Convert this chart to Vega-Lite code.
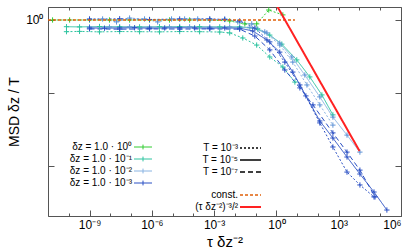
{
"$schema": "https://vega.github.io/schema/vega-lite/v6.json",
"width": 353, "height": 209,
"autosize": "none",
"padding": {"left": 48, "top": 7, "right": 14, "bottom": 33},
"config": {"font": "Liberation Sans", "view": {"stroke": "#555", "strokeWidth": 1},
  "axis": {"domain": false, "grid": false, "tickColor": "#555", "labelColor": "black", "labelFontSize": 12, "titleFontWeight": "normal", "titleColor": "black"},
  "legend": {"padding": 0, "labelFontSize": 10, "labelColor": "black", "rowPadding": 2, "labelLimit": 200}},
"datasets": {
"d": [
{"dz":"1e0","T":"1e-3","x":1.66e-11,"y":1},{"dz":"1e0","T":"1e-3","x":1.10e-10,"y":1},{"dz":"1e0","T":"1e-3","x":1e-9,"y":1},{"dz":"1e0","T":"1e-3","x":9.12e-9,"y":1},{"dz":"1e0","T":"1e-3","x":8.51e-8,"y":1},{"dz":"1e0","T":"1e-3","x":7.76e-7,"y":1},{"dz":"1e0","T":"1e-3","x":7.08e-6,"y":1},{"dz":"1e0","T":"1e-3","x":6.61e-5,"y":1},{"dz":"1e0","T":"1e-3","x":6.17e-4,"y":1},{"dz":"1e0","T":"1e-3","x":5.62e-3,"y":0.912},{"dz":"1e0","T":"1e-3","x":0.0302,"y":0.692},{"dz":"1e0","T":"1e-3","x":0.112,"y":0.692},{"dz":"1e0","T":"1e-3","x":0.427,"y":2.57},{"dz":"1e0","T":"1e-3","x":2.04,"y":1.62},
{"dz":"1e-1","T":"1e-5","x":7.76e-11,"y":0.53},{"dz":"1e-1","T":"1e-5","x":3.31e-10,"y":0.52},{"dz":"1e-1","T":"1e-5","x":3.02e-9,"y":0.54},{"dz":"1e-1","T":"1e-5","x":2.82e-8,"y":0.53},{"dz":"1e-1","T":"1e-5","x":2.57e-7,"y":0.52},{"dz":"1e-1","T":"1e-5","x":2.34e-6,"y":0.53},{"dz":"1e-1","T":"1e-5","x":2.19e-5,"y":0.54},{"dz":"1e-1","T":"1e-5","x":2.0e-4,"y":0.53},{"dz":"1e-1","T":"1e-5","x":1.86e-3,"y":0.52},{"dz":"1e-1","T":"1e-5","x":0.017,"y":0.52},{"dz":"1e-1","T":"1e-5","x":0.126,"y":0.427},{"dz":"1e-1","T":"1e-5","x":0.479,"y":0.24},{"dz":"1e-1","T":"1e-5","x":1.82,"y":0.102},{"dz":"1e-1","T":"1e-5","x":9.55,"y":0.0229},{"dz":"1e-1","T":"1e-5","x":40.7,"y":0.00457},{"dz":"1e-1","T":"1e-5","x":155,"y":8.32e-4},{"dz":"1e-1","T":"1e-5","x":525,"y":1.26e-4},
{"dz":"1e-1","T":"1e-3","x":7.76e-11,"y":0.331},{"dz":"1e-1","T":"1e-3","x":3.31e-10,"y":0.34},{"dz":"1e-1","T":"1e-3","x":3.02e-9,"y":0.325},{"dz":"1e-1","T":"1e-3","x":2.82e-8,"y":0.335},{"dz":"1e-1","T":"1e-3","x":2.57e-7,"y":0.33},{"dz":"1e-1","T":"1e-3","x":2.34e-6,"y":0.325},{"dz":"1e-1","T":"1e-3","x":2.19e-5,"y":0.335},{"dz":"1e-1","T":"1e-3","x":2.0e-4,"y":0.33},{"dz":"1e-1","T":"1e-3","x":1.86e-3,"y":0.32},{"dz":"1e-1","T":"1e-3","x":5.62e-3,"y":0.295},{"dz":"1e-1","T":"1e-3","x":0.024,"y":0.182},{"dz":"1e-1","T":"1e-3","x":0.112,"y":0.0933},{"dz":"1e-1","T":"1e-3","x":0.479,"y":0.0302},{"dz":"1e-1","T":"1e-3","x":2.04,"y":0.0117},{"dz":"1e-1","T":"1e-3","x":7.76,"y":0.00282},
{"dz":"1e-2","T":"1e-3","x":1e-9,"y":1.1},{"dz":"1e-2","T":"1e-3","x":4.27e-9,"y":1.1},{"dz":"1e-2","T":"1e-3","x":2.0e-8,"y":0.832},{"dz":"1e-2","T":"1e-3","x":8.51e-8,"y":1.2},{"dz":"1e-2","T":"1e-3","x":4.47e-7,"y":1.1},{"dz":"1e-2","T":"1e-3","x":1.91e-6,"y":0.832},{"dz":"1e-2","T":"1e-3","x":8.91e-6,"y":1.1},{"dz":"1e-2","T":"1e-3","x":3.8e-5,"y":1.1},{"dz":"1e-2","T":"1e-3","x":1.62e-4,"y":1.1},{"dz":"1e-2","T":"1e-3","x":6.17e-4,"y":1},{"dz":"1e-2","T":"1e-3","x":3.24e-3,"y":1.1},{"dz":"1e-2","T":"1e-3","x":0.0138,"y":0.832},{"dz":"1e-2","T":"1e-3","x":0.0646,"y":0.692},{"dz":"1e-2","T":"1e-3","x":0.275,"y":0.324},{"dz":"1e-2","T":"1e-3","x":1.45,"y":0.0933},{"dz":"1e-2","T":"1e-3","x":6.17,"y":0.0186},{"dz":"1e-2","T":"1e-3","x":29.5,"y":0.00214},{"dz":"1e-2","T":"1e-3","x":123,"y":3.24e-4},{"dz":"1e-2","T":"1e-3","x":525,"y":4.79e-5},
{"dz":"1e-2","T":"1e-5","x":1e-9,"y":0.515},{"dz":"1e-2","T":"1e-5","x":9.12e-9,"y":0.51},{"dz":"1e-2","T":"1e-5","x":8.51e-8,"y":0.52},{"dz":"1e-2","T":"1e-5","x":7.76e-7,"y":0.51},{"dz":"1e-2","T":"1e-5","x":7.08e-6,"y":0.515},{"dz":"1e-2","T":"1e-5","x":6.61e-5,"y":0.52},{"dz":"1e-2","T":"1e-5","x":6.17e-4,"y":0.51},{"dz":"1e-2","T":"1e-5","x":5.62e-3,"y":0.515},{"dz":"1e-2","T":"1e-5","x":0.0525,"y":0.5},{"dz":"1e-2","T":"1e-5","x":0.347,"y":0.295},{"dz":"1e-2","T":"1e-5","x":1.45,"y":0.112},{"dz":"1e-2","T":"1e-5","x":5.5,"y":0.0302},{"dz":"1e-2","T":"1e-5","x":23.4,"y":0.0055},{"dz":"1e-2","T":"1e-5","x":123,"y":6.92e-4},{"dz":"1e-2","T":"1e-5","x":525,"y":1.02e-4},{"dz":"1e-2","T":"1e-5","x":2510,"y":1.86e-5},{"dz":"1e-2","T":"1e-5","x":10500,"y":3.72e-6},
{"dz":"1e-3","T":"1e-5","x":1e-9,"y":0.47},{"dz":"1e-3","T":"1e-5","x":5.25e-9,"y":0.46},{"dz":"1e-3","T":"1e-5","x":2.82e-8,"y":0.47},{"dz":"1e-3","T":"1e-5","x":1.48e-7,"y":0.48},{"dz":"1e-3","T":"1e-5","x":7.76e-7,"y":0.46},{"dz":"1e-3","T":"1e-5","x":4.17e-6,"y":0.47},{"dz":"1e-3","T":"1e-5","x":2.19e-5,"y":0.48},{"dz":"1e-3","T":"1e-5","x":1.15e-4,"y":0.47},{"dz":"1e-3","T":"1e-5","x":6.17e-4,"y":0.46},{"dz":"1e-3","T":"1e-5","x":3.24e-3,"y":0.47},{"dz":"1e-3","T":"1e-5","x":0.017,"y":0.46},{"dz":"1e-3","T":"1e-5","x":0.0724,"y":0.355},{"dz":"1e-3","T":"1e-5","x":0.347,"y":0.151},{"dz":"1e-3","T":"1e-5","x":1.45,"y":0.0479},{"dz":"1e-3","T":"1e-5","x":6.17,"y":0.00724},{"dz":"1e-3","T":"1e-5","x":26.3,"y":7.59e-4},{"dz":"1e-3","T":"1e-5","x":123,"y":7.08e-5},{"dz":"1e-3","T":"1e-5","x":525,"y":1.41e-5},{"dz":"1e-3","T":"1e-5","x":2510,"y":2.34e-6},{"dz":"1e-3","T":"1e-5","x":10500,"y":4.68e-7},{"dz":"1e-3","T":"1e-5","x":50100,"y":8.51e-8},{"dz":"1e-3","T":"1e-5","x":209000,"y":1.55e-8},
{"dz":"1e-3","T":"1e-7","x":1e-9,"y":0.43},{"dz":"1e-3","T":"1e-7","x":2.82e-8,"y":0.42},{"dz":"1e-3","T":"1e-7","x":7.76e-7,"y":0.43},{"dz":"1e-3","T":"1e-7","x":2.19e-5,"y":0.425},{"dz":"1e-3","T":"1e-7","x":6.17e-4,"y":0.43},{"dz":"1e-3","T":"1e-7","x":0.017,"y":0.42},{"dz":"1e-3","T":"1e-7","x":0.0912,"y":0.219},{"dz":"1e-3","T":"1e-7","x":0.479,"y":0.0589},{"dz":"1e-3","T":"1e-7","x":2.54,"y":0.00881},{"dz":"1e-3","T":"1e-7","x":13.5,"y":0.00162},{"dz":"1e-3","T":"1e-7","x":57.5,"y":3.24e-4},{"dz":"1e-3","T":"1e-7","x":525,"y":2.29e-5},{"dz":"1e-3","T":"1e-7","x":2510,"y":3.72e-6},{"dz":"1e-3","T":"1e-7","x":10500,"y":6.76e-7},{"dz":"1e-3","T":"1e-7","x":56200,"y":5.37e-8},
{"dz":"1e-3","T":"1e-3","x":1e-9,"y":1.08},{"dz":"1e-3","T":"1e-3","x":2.82e-8,"y":1.12},{"dz":"1e-3","T":"1e-3","x":7.76e-7,"y":1.05},{"dz":"1e-3","T":"1e-3","x":2.19e-5,"y":1.1},{"dz":"1e-3","T":"1e-3","x":6.17e-4,"y":1.12},{"dz":"1e-3","T":"1e-3","x":3.24e-3,"y":1.05},{"dz":"1e-3","T":"1e-3","x":0.017,"y":0.912},{"dz":"1e-3","T":"1e-3","x":0.0912,"y":0.468},{"dz":"1e-3","T":"1e-3","x":0.479,"y":0.126},{"dz":"1e-3","T":"1e-3","x":2.54,"y":0.0186},{"dz":"1e-3","T":"1e-3","x":13.5,"y":0.00214},{"dz":"1e-3","T":"1e-3","x":123,"y":5.89e-5},{"dz":"1e-3","T":"1e-3","x":525,"y":6.03e-6},{"dz":"1e-3","T":"1e-3","x":2510,"y":5.62e-7},{"dz":"1e-3","T":"1e-3","x":10500,"y":1.66e-7},{"dz":"1e-3","T":"1e-3","x":50100,"y":5.37e-8}
],
"r": [
{"ref":"const","x":1e-11,"y":1},{"ref":"const","x":7.8,"y":1},
{"ref":"pow","x":1,"y":4.17},{"ref":"pow","x":10000,"y":4.17e-6}
]},
"layer": [
{"data": {"name": "d"},
 "mark": {"type": "line", "clip": true},
 "encoding": {
  "x": {"field": "x", "type": "quantitative", "scale": {"type": "log", "domain": [1e-11, 1e6], "nice": false},
        "axis": {"orient": "bottom", "values": [1e-9, 1e-6, 1e-3, 1, 1000, 1000000], "tickSize": -6, "labelPadding": 9,
                 "labelExpr": "['10⁻⁹','10⁻⁶','10⁻³','10⁰','10³','10⁶'][round(log(datum.value)/LN10/3)+3]",
                 "title": "τ δz⁻²", "titleFontSize": 15, "titleY": 30, "titleBaseline": "alphabetic"}},
  "y": {"field": "y", "type": "quantitative", "scale": {"type": "log", "domain": [8.8e-9, 3.42], "nice": false},
        "axis": {"orient": "left", "values": [1, 0.001, 0.000001], "tickSize": -6, "labelPadding": 11,
                 "labelExpr": "datum.value == 1 ? '10⁰' : ''", "title": "MSD δz / T", "titleFontSize": 14, "titleX": -34, "titleBaseline": "middle"}},
  "color": {"field": "dz", "type": "nominal",
            "scale": {"domain": ["1e0", "1e-1", "1e-2", "1e-3"], "range": ["#33cc33", "#2ec4a0", "#8ab4e2", "#2b50c4"]},
            "legend": {"orient": "none", "legendX": 90, "legendY": 135, "title": null, "symbolType": "M-3,0L3,0M0,-0.8L0,0.8", "symbolSize": 36, "symbolStrokeWidth": 1,
                       "labelAlign": "right", "labelOffset": -16,
                       "labelExpr": "datum.label == '1e0' ? 'δz = 1.0 · 10⁰' : datum.label == '1e-1' ? 'δz = 1.0 · 10⁻¹' : datum.label == '1e-2' ? 'δz = 1.0 · 10⁻²' : 'δz = 1.0 · 10⁻³'"}},
  "strokeDash": {"field": "T", "type": "nominal",
            "scale": {"domain": ["1e-3", "1e-5", "1e-7"], "range": [[2, 2], [1, 0], [5, 3]]},
            "legend": {"orient": "none", "legendX": 197.5, "legendY": 136, "title": null, "symbolType": "M-3.5,0L3.5,0", "symbolSize": 36, "symbolStrokeWidth": 1.5, "symbolStrokeColor": "black",
                       "labelAlign": "right", "labelOffset": -17.5,
                       "labelExpr": "datum.label == '1e-3' ? 'T = 10⁻³' : datum.label == '1e-5' ? 'T = 10⁻⁵' : 'T = 10⁻⁷'"}},
  "strokeWidth": {"field": "dz", "type": "nominal", "scale": {"domain": ["1e0", "1e-1", "1e-2", "1e-3"], "range": [1, 1, 2.5, 1]}, "legend": null}
 }},
{"data": {"name": "d"},
 "mark": {"type": "point", "shape": "M-1,0L1,0M0,-1L0,1", "filled": false, "size": 28, "strokeWidth": 1, "clip": true, "opacity": 1},
 "encoding": {
  "x": {"field": "x", "type": "quantitative", "scale": {"type": "log", "domain": [1e-11, 1e6], "nice": false},
        "axis": {"orient": "bottom", "values": [1e-11, 1e-10, 1e-9, 1e-8, 1e-7, 1e-6, 1e-5, 1e-4, 1e-3, 1e-2, 1e-1, 1, 10, 100, 1000, 10000, 100000, 1000000], "tickSize": -3, "labels": false, "title": null}},
  "y": {"field": "y", "type": "quantitative", "scale": {"type": "log", "domain": [8.8e-9, 3.42], "nice": false}, "axis": null},
  "color": {"field": "dz", "type": "nominal", "scale": {"domain": ["1e0", "1e-1", "1e-2", "1e-3"], "range": ["#33cc33", "#2ec4a0", "#5f93d6", "#2b50c4"]}, "legend": null}
 }},
{"data": {"name": "r"},
 "mark": {"type": "line", "clip": true},
 "encoding": {
  "x": {"field": "x", "type": "quantitative", "scale": {"type": "log", "domain": [1e-11, 1e6], "nice": false},
        "axis": {"orient": "top", "values": [1e-11, 1e-10, 1e-9, 1e-8, 1e-7, 1e-6, 1e-5, 1e-4, 1e-3, 1e-2, 1e-1, 1, 10, 100, 1000, 10000, 100000, 1000000], "tickSize": -3, "labels": false, "title": null}},
  "y": {"field": "y", "type": "quantitative", "scale": {"type": "log", "domain": [8.8e-9, 3.42], "nice": false},
        "axis": {"orient": "right", "values": [1, 0.001, 0.000001], "tickSize": -6, "labels": false, "title": null}},
  "color": {"field": "ref", "type": "nominal", "scale": {"domain": ["const", "pow"], "range": ["#e0600a", "#ff2222"]},
            "legend": {"orient": "none", "legendX": 197.5, "legendY": 183, "title": null, "symbolType": "M-3.5,0L3.5,0", "symbolSize": 36,
                       "labelAlign": "right", "labelOffset": -17.5,
                       "labelExpr": "datum.label == 'const' ? 'const.' : '(τ δz⁻²)⁻³/²'"}},
  "strokeDash": {"field": "ref", "type": "nominal", "scale": {"domain": ["const", "pow"], "range": [[3, 2], [1, 0]]}},
  "strokeWidth": {"field": "ref", "type": "nominal", "scale": {"domain": ["const", "pow"], "range": [1.5, 2]}}
 }}
],
"resolve": {"scale": {"color": "independent", "strokeDash": "independent", "strokeWidth": "independent"}, "axis": {"x": "independent", "y": "independent"}}
}
